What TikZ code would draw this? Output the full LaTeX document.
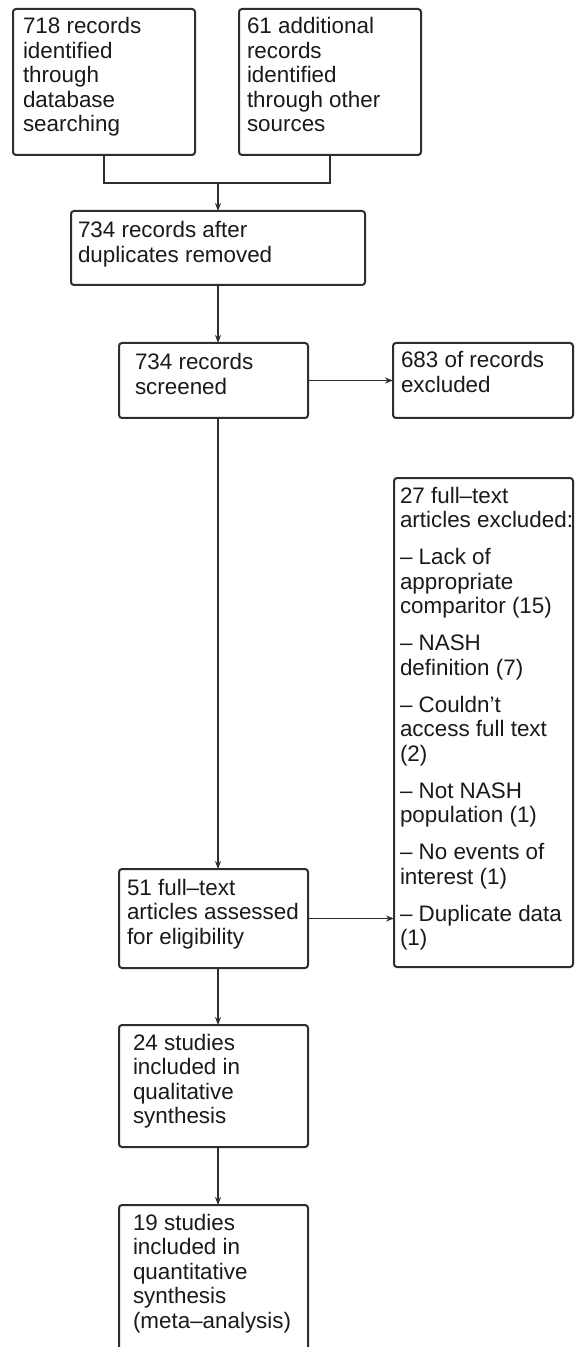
\documentclass[tikz,border=0pt]{standalone}
\usepackage{fontspec}
\setmainfont{Liberation Sans}
\usetikzlibrary{arrows.meta}
\definecolor{linec}{HTML}{2E2E2E}
\definecolor{textc}{HTML}{1A1A1A}
\begin{document}
\begin{tikzpicture}[x=0.5pt,y=-0.5pt,
  box/.style={draw=linec, line width=1pt, rounded corners=1.5pt, anchor=north west, inner sep=0pt, outer sep=0pt},
  txt/.style={anchor=base west, inner sep=0pt, outer sep=0pt, font=\fontsize{11.2pt}{12.25pt}\selectfont, text=textc},
  conn/.style={draw=linec, line width=0.75pt},
  arr/.style={conn, -{Stealth[length=4pt,width=3pt]}}]
\useasboundingbox (0,0) rectangle (574,1347);
\clip (0,0) rectangle (574,1347);
\fill[white] (0,0) rectangle (574,1347);
% boxes
\node[box, minimum width=91pt, minimum height=73pt] (b1) at (13,9) {};
\node[box, minimum width=91pt, minimum height=73pt] (b2) at (239,9) {};
\node[box, minimum width=147pt, minimum height=37pt] (b3) at (71,211) {};
\node[box, minimum width=94.5pt, minimum height=37.5pt] (b4) at (119,343) {};
\node[box, minimum width=90pt, minimum height=37.5pt] (b5) at (393,343) {};
\node[box, minimum width=89.5pt, minimum height=244.5pt] (b7) at (394,478) {};
\node[box, minimum width=94.5pt, minimum height=49.5pt] (b6) at (119,869) {};
\node[box, minimum width=94.5pt, minimum height=61pt] (b8) at (119,1025) {};
\node[box, minimum width=94.5pt, minimum height=85pt] (b9) at (119,1205) {};
% texts
\node[txt] (t1) at (23,34) {\begin{tabular}[t]{@{}l@{}}718 records\\identified\\through\\database\\searching\end{tabular}};
\node[txt] (t2) at (247,34) {\begin{tabular}[t]{@{}l@{}}61 additional\\records\\identified\\through other\\sources\end{tabular}};
\node[txt] (t3) at (78,238) {\begin{tabular}[t]{@{}l@{}}734 records after\\duplicates removed\end{tabular}};
\node[txt] (t4) at (135,370) {\begin{tabular}[t]{@{}l@{}}734 records\\screened\end{tabular}};
\node[txt] (t5) at (401,368) {\begin{tabular}[t]{@{}l@{}}683 of records\\excluded\end{tabular}};
\node[txt] (t6) at (127,895) {\begin{tabular}[t]{@{}l@{}}51 full–text\\articles assessed\\for eligibility\end{tabular}};
\node[txt] (t7) at (400,503) {\begin{tabular}[t]{@{}l@{}}27 full–text\\articles excluded:\\[6.25pt]– Lack of\\appropriate\\comparitor (15)\\[6.25pt]– NASH\\definition (7)\\[6.25pt]– Couldn’t\\access full text\\(2)\\[6.25pt]– Not NASH\\population (1)\\[6.25pt]– No events of\\interest (1)\\[6.25pt]– Duplicate data\\(1)\end{tabular}};
\node[txt] (t8) at (133,1050) {\begin{tabular}[t]{@{}l@{}}24 studies\\included in\\qualitative\\synthesis\end{tabular}};
\node[txt] (t9) at (133,1230) {\begin{tabular}[t]{@{}l@{}}19 studies\\included in\\quantitative\\synthesis\\(meta–analysis)\end{tabular}};
% connectors
\coordinate (m) at (218,183);
\coordinate (axis) at (218,0);
\draw[conn] (b1.south) |- (m) -| (b2.south);
\draw[arr] (m) -- (b3.north);
\draw[arr] (axis |- b3.south) -- (axis |- b4.north);
\draw[arr] (b4.east) -- (b4.east -| b5.west);
\draw[arr] (axis |- b4.south) -- (axis |- b6.north);
\draw[arr] (b6.east) -- (b6.east -| b7.west);
\draw[arr] (axis |- b6.south) -- (axis |- b8.north);
\draw[arr] (axis |- b8.south) -- (axis |- b9.north);
\end{tikzpicture}
\end{document}
